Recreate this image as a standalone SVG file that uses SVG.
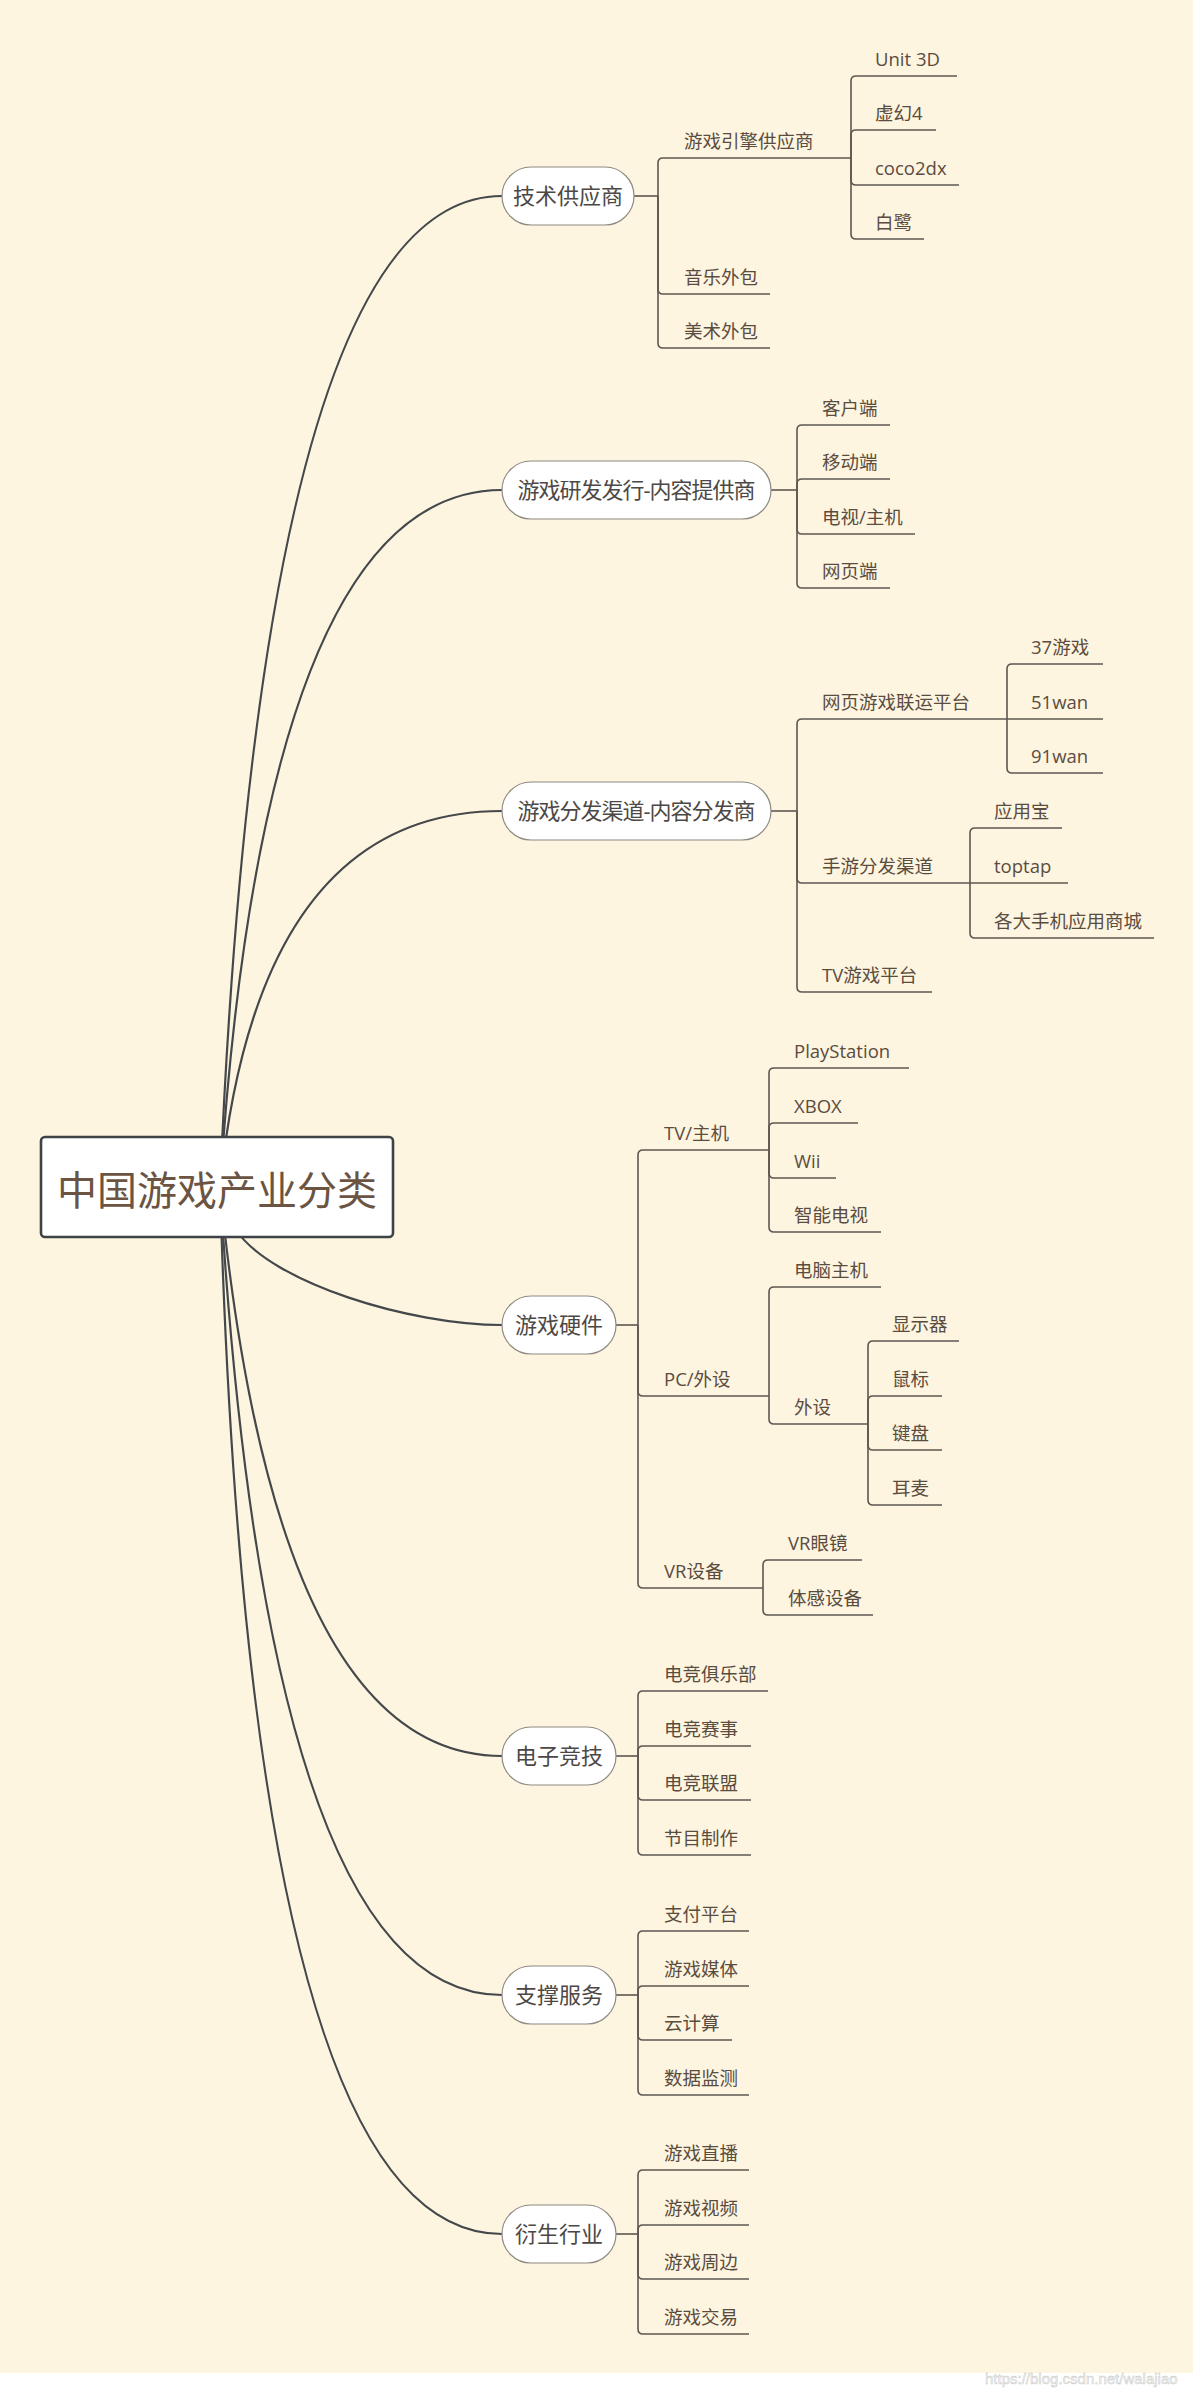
<svg xmlns="http://www.w3.org/2000/svg" width="1200" height="2389" viewBox="0 0 1200 2389">
<defs>
<style>
.curve{fill:none;stroke:#44484a;stroke-width:2.2}
.elbow{fill:none;stroke:#5d5750;stroke-width:1.6}
.pill{fill:#ffffff;stroke:#8e8a84;stroke-width:1.2}
.root{fill:#ffffff;stroke:#3e4346;stroke-width:2.6}
.leaf{font-family:"Open Sans","Noto Sans CJK SC",sans-serif;font-size:18.5px;fill:#5b4c40}
.main{font-family:"Open Sans","Noto Sans CJK SC",sans-serif;font-size:22px;fill:#4d4845;text-anchor:middle}
.rt{font-family:"Open Sans","Noto Sans CJK SC",sans-serif;font-size:40px;fill:#6c5443;text-anchor:middle}
.wm{font-family:"Liberation Sans",Arial,sans-serif;font-size:15px;fill:#f2f2f2;stroke:#c4c4c4;stroke-width:0.4}
</style>
</defs>
<rect x="0" y="0" width="1200" height="2389" fill="#ffffff"/>
<rect x="0" y="0" width="1193" height="2373" fill="#fdf5e0"/>

<g id="connectors">
<path class="curve" d="M220 1187 Q262 196 502 196"/>
<path class="curve" d="M220 1187 Q265 490 502 490"/>
<path class="curve" d="M220 1187 Q258 811 502 811"/>
<path class="curve" d="M236 1230 C272 1283 410 1325 502 1325"/>
<path class="curve" d="M220 1187 Q275 1756 502 1756"/>
<path class="curve" d="M220 1187 Q268 1995 502 1995"/>
<path class="curve" d="M220 1187 Q250 2234 502 2234"/>

<path class="elbow" d="M634 196 H658"/>
<path class="elbow" d="M658 196 V163 Q658 158 663 158 H851"/>
<path class="elbow" d="M658 196 V289 Q658 294 663 294 H770"/>
<path class="elbow" d="M658 196 V343 Q658 348 663 348 H770"/>
<path class="elbow" d="M851 158 V81 Q851 76 856 76 H957"/>
<path class="elbow" d="M851 158 V135 Q851 130 856 130 H936"/>
<path class="elbow" d="M851 158 V180 Q851 185 856 185 H959"/>
<path class="elbow" d="M851 158 V234 Q851 239 856 239 H924"/>

<path class="elbow" d="M771 490 H797"/>
<path class="elbow" d="M797 490 V430 Q797 425 802 425 H890"/>
<path class="elbow" d="M797 490 V484 Q797 479 802 479 H890"/>
<path class="elbow" d="M797 490 V529 Q797 534 802 534 H915"/>
<path class="elbow" d="M797 490 V583 Q797 588 802 588 H890"/>

<path class="elbow" d="M771 811 H797"/>
<path class="elbow" d="M797 811 V724 Q797 719 802 719 H1007"/>
<path class="elbow" d="M797 811 V878 Q797 883 802 883 H970"/>
<path class="elbow" d="M797 811 V987 Q797 992 802 992 H932"/>
<path class="elbow" d="M1007 719 V669 Q1007 664 1012 664 H1103"/>
<path class="elbow" d="M1007 719 H1103"/>
<path class="elbow" d="M1007 719 V768 Q1007 773 1012 773 H1103"/>
<path class="elbow" d="M970 883 V833 Q970 828 975 828 H1062"/>
<path class="elbow" d="M970 883 H1068"/>
<path class="elbow" d="M970 883 V933 Q970 938 975 938 H1154"/>

<path class="elbow" d="M616 1325 H638"/>
<path class="elbow" d="M638 1325 V1155 Q638 1150 643 1150 H769"/>
<path class="elbow" d="M638 1325 V1391 Q638 1396 643 1396 H769"/>
<path class="elbow" d="M638 1325 V1583 Q638 1588 643 1588 H763"/>
<path class="elbow" d="M769 1150 V1073 Q769 1068 774 1068 H909"/>
<path class="elbow" d="M769 1150 V1128 Q769 1123 774 1123 H858"/>
<path class="elbow" d="M769 1150 V1173 Q769 1178 774 1178 H836"/>
<path class="elbow" d="M769 1150 V1227 Q769 1232 774 1232 H881"/>
<path class="elbow" d="M769 1396 V1292 Q769 1287 774 1287 H881"/>
<path class="elbow" d="M769 1396 V1419 Q769 1424 774 1424 H868"/>
<path class="elbow" d="M868 1424 V1346 Q868 1341 873 1341 H959"/>
<path class="elbow" d="M868 1424 V1401 Q868 1396 873 1396 H942"/>
<path class="elbow" d="M868 1424 V1445 Q868 1450 873 1450 H942"/>
<path class="elbow" d="M868 1424 V1500 Q868 1505 873 1505 H942"/>
<path class="elbow" d="M763 1588 V1565 Q763 1560 768 1560 H862"/>
<path class="elbow" d="M763 1588 V1610 Q763 1615 768 1615 H873"/>

<path class="elbow" d="M616 1756 H638"/>
<path class="elbow" d="M638 1756 V1696 Q638 1691 643 1691 H768"/>
<path class="elbow" d="M638 1756 V1751 Q638 1746 643 1746 H751"/>
<path class="elbow" d="M638 1756 V1795 Q638 1800 643 1800 H751"/>
<path class="elbow" d="M638 1756 V1850 Q638 1855 643 1855 H751"/>

<path class="elbow" d="M616 1995 H638"/>
<path class="elbow" d="M638 1995 V1936 Q638 1931 643 1931 H749"/>
<path class="elbow" d="M638 1995 V1991 Q638 1986 643 1986 H749"/>
<path class="elbow" d="M638 1995 V2035 Q638 2040 643 2040 H732"/>
<path class="elbow" d="M638 1995 V2090 Q638 2095 643 2095 H749"/>

<path class="elbow" d="M616 2234 H638"/>
<path class="elbow" d="M638 2234 V2175 Q638 2170 643 2170 H749"/>
<path class="elbow" d="M638 2234 V2230 Q638 2225 643 2225 H749"/>
<path class="elbow" d="M638 2234 V2274 Q638 2279 643 2279 H749"/>
<path class="elbow" d="M638 2234 V2329 Q638 2334 643 2334 H749"/>
</g>

<g id="root">
<rect class="root" x="41" y="1137" width="352" height="100" rx="4"/>
<text class="rt" x="217" y="1205">中国游戏产业分类</text>
</g>

<g id="n-tech">
<rect class="pill" x="502" y="167" width="132" height="58" rx="29"/>
<text class="main" x="568" y="204">技术供应商</text>
</g>
<g id="n-tech-engine"><text class="leaf" x="684" y="148">游戏引擎供应商</text></g>
<g id="n-unity"><text class="leaf" x="875" y="66">Unit 3D</text></g>
<g id="n-unreal"><text class="leaf" x="875" y="120">虚幻4</text></g>
<g id="n-cocos"><text class="leaf" x="875" y="175">coco2dx</text></g>
<g id="n-egret"><text class="leaf" x="875" y="229">白鹭</text></g>
<g id="n-music"><text class="leaf" x="684" y="284">音乐外包</text></g>
<g id="n-art"><text class="leaf" x="684" y="338">美术外包</text></g>

<g id="n-dev">
<rect class="pill" x="502" y="461" width="269" height="58" rx="29"/>
<text class="main" x="636.5" y="498" textLength="238" lengthAdjust="spacing">游戏研发发行-内容提供商</text>
</g>
<g id="n-client"><text class="leaf" x="822" y="415">客户端</text></g>
<g id="n-mobile"><text class="leaf" x="822" y="469">移动端</text></g>
<g id="n-tv"><text class="leaf" x="822" y="524">电视/主机</text></g>
<g id="n-web"><text class="leaf" x="822" y="578">网页端</text></g>

<g id="n-dist">
<rect class="pill" x="502" y="782" width="269" height="58" rx="29"/>
<text class="main" x="636.5" y="819" textLength="238" lengthAdjust="spacing">游戏分发渠道-内容分发商</text>
</g>
<g id="n-webplat"><text class="leaf" x="822" y="709">网页游戏联运平台</text></g>
<g id="n-37"><text class="leaf" x="1031" y="654">37游戏</text></g>
<g id="n-51"><text class="leaf" x="1031" y="709">51wan</text></g>
<g id="n-91"><text class="leaf" x="1031" y="763">91wan</text></g>
<g id="n-mobdist"><text class="leaf" x="822" y="873">手游分发渠道</text></g>
<g id="n-yyb"><text class="leaf" x="994" y="818">应用宝</text></g>
<g id="n-toptap"><text class="leaf" x="994" y="873">toptap</text></g>
<g id="n-stores"><text class="leaf" x="994" y="928">各大手机应用商城</text></g>
<g id="n-tvplat"><text class="leaf" x="822" y="982">TV游戏平台</text></g>

<g id="n-hw">
<rect class="pill" x="502" y="1296" width="114" height="58" rx="29"/>
<text class="main" x="559" y="1333">游戏硬件</text>
</g>
<g id="n-tvconsole"><text class="leaf" x="664" y="1140">TV/主机</text></g>
<g id="n-ps"><text class="leaf" x="794" y="1058">PlayStation</text></g>
<g id="n-xbox"><text class="leaf" x="794" y="1113">XBOX</text></g>
<g id="n-wii"><text class="leaf" x="794" y="1168">Wii</text></g>
<g id="n-smarttv"><text class="leaf" x="794" y="1222">智能电视</text></g>
<g id="n-pc"><text class="leaf" x="664" y="1386">PC/外设</text></g>
<g id="n-pchost"><text class="leaf" x="794" y="1277">电脑主机</text></g>
<g id="n-periph"><text class="leaf" x="794" y="1414">外设</text></g>
<g id="n-monitor"><text class="leaf" x="892" y="1331">显示器</text></g>
<g id="n-mouse"><text class="leaf" x="892" y="1386">鼠标</text></g>
<g id="n-keyboard"><text class="leaf" x="892" y="1440">键盘</text></g>
<g id="n-headset"><text class="leaf" x="892" y="1495">耳麦</text></g>
<g id="n-vr"><text class="leaf" x="664" y="1578">VR设备</text></g>
<g id="n-vrglass"><text class="leaf" x="788" y="1550">VR眼镜</text></g>
<g id="n-motion"><text class="leaf" x="788" y="1605">体感设备</text></g>

<g id="n-esports">
<rect class="pill" x="502" y="1727" width="114" height="58" rx="29"/>
<text class="main" x="559" y="1764">电子竞技</text>
</g>
<g id="n-club"><text class="leaf" x="664" y="1681">电竞俱乐部</text></g>
<g id="n-match"><text class="leaf" x="664" y="1736">电竞赛事</text></g>
<g id="n-league"><text class="leaf" x="664" y="1790">电竞联盟</text></g>
<g id="n-show"><text class="leaf" x="664" y="1845">节目制作</text></g>

<g id="n-support">
<rect class="pill" x="502" y="1966" width="114" height="58" rx="29"/>
<text class="main" x="559" y="2003">支撑服务</text>
</g>
<g id="n-pay"><text class="leaf" x="664" y="1921">支付平台</text></g>
<g id="n-media"><text class="leaf" x="664" y="1976">游戏媒体</text></g>
<g id="n-cloud"><text class="leaf" x="664" y="2030">云计算</text></g>
<g id="n-data"><text class="leaf" x="664" y="2085">数据监测</text></g>

<g id="n-derived">
<rect class="pill" x="502" y="2205" width="114" height="58" rx="29"/>
<text class="main" x="559" y="2242">衍生行业</text>
</g>
<g id="n-live"><text class="leaf" x="664" y="2160">游戏直播</text></g>
<g id="n-video"><text class="leaf" x="664" y="2215">游戏视频</text></g>
<g id="n-merch"><text class="leaf" x="664" y="2269">游戏周边</text></g>
<g id="n-trade"><text class="leaf" x="664" y="2324">游戏交易</text></g>

<text class="wm" x="985" y="2384">https://blog.csdn.net/walajiao</text>
</svg>
